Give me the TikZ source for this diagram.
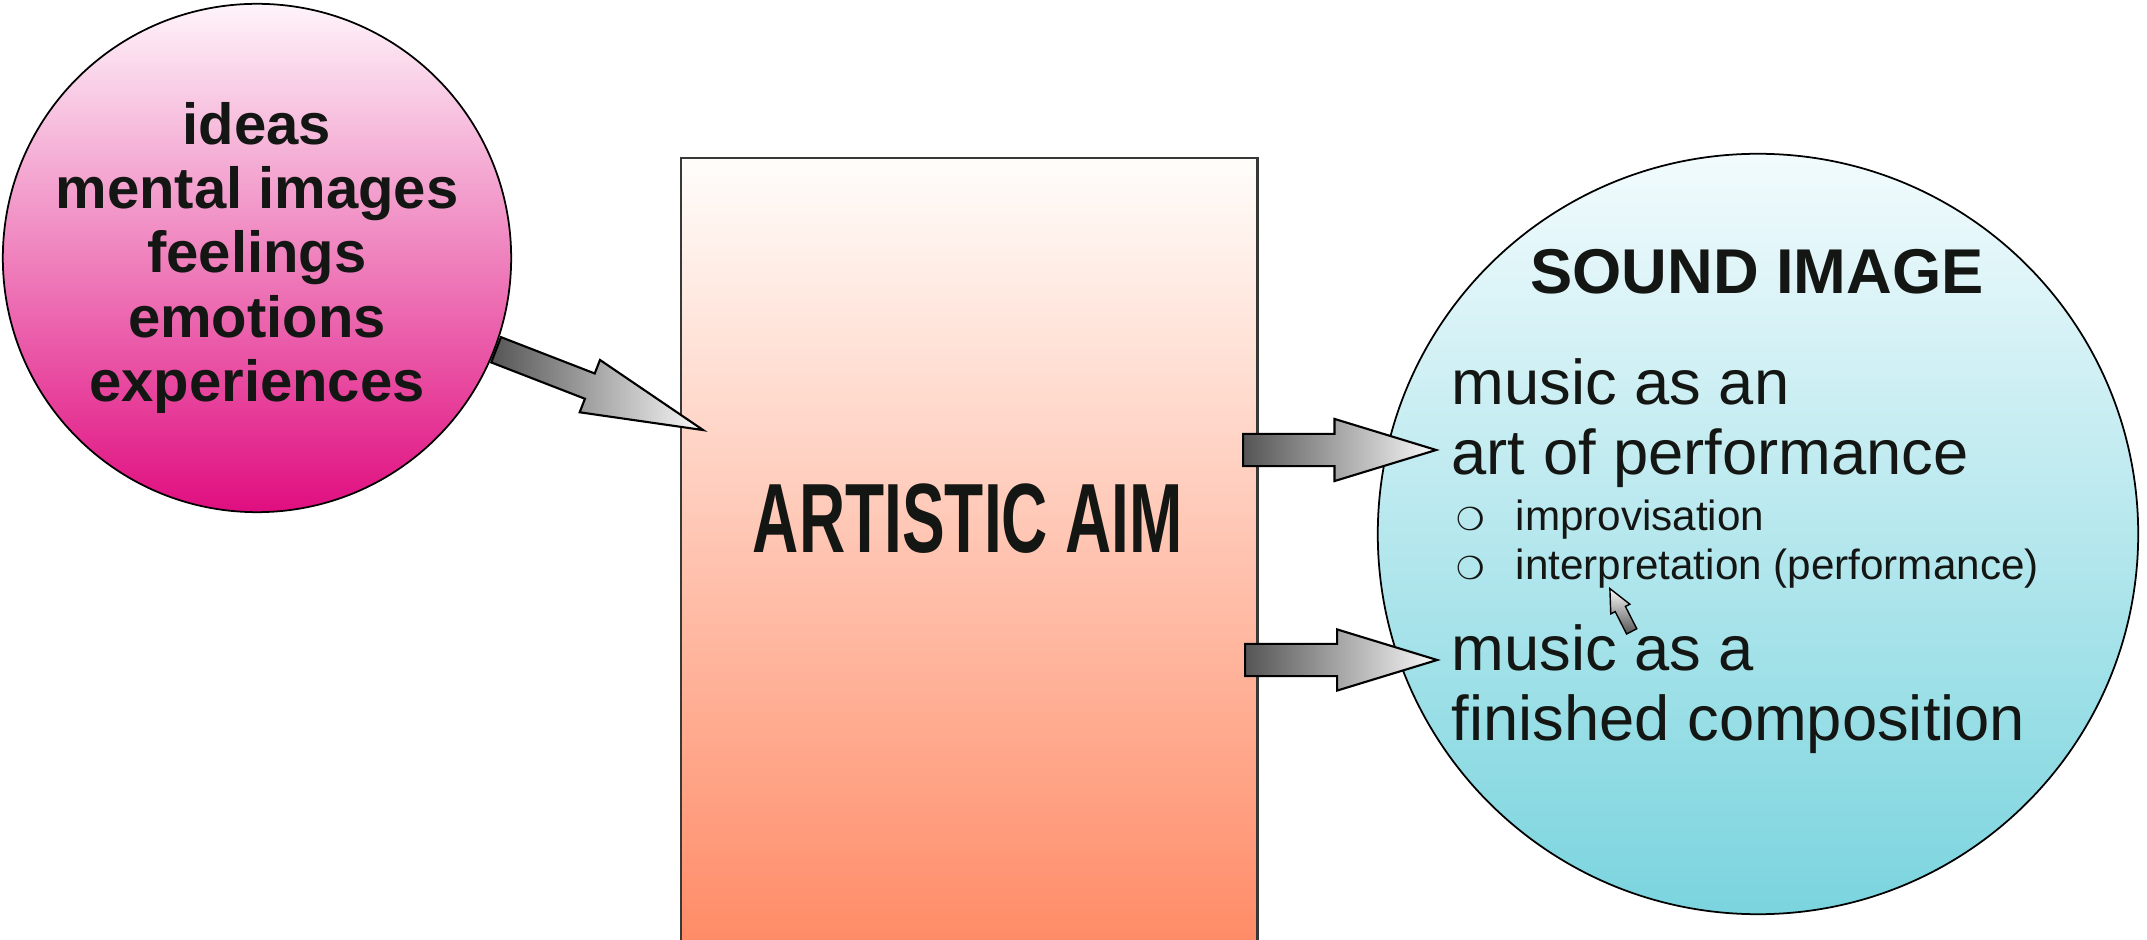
\documentclass[tikz,border=0pt]{standalone}
\usepackage{fontspec}
\setmainfont{Liberation Sans}
\newfontfamily\narrowfont[FakeStretch=0.65]{Liberation Sans}
\newfontfamily\dingfont{DejaVu Sans}
\usetikzlibrary{shapes.arrows}

\definecolor{ink}{RGB}{20,22,20}
\definecolor{ideatop}{RGB}{254,244,250}
\definecolor{ideabot}{RGB}{224,14,128}
\definecolor{aimtop}{RGB}{255,253,251}
\definecolor{aimbot}{RGB}{255,134,96}
\definecolor{soundtop}{RGB}{242,251,253}
\definecolor{soundbot}{RGB}{122,212,222}
\definecolor{arrowdark}{RGB}{85,85,85}
\definecolor{arrowlight}{RGB}{250,250,250}

\tikzset{
    blockarrow/.style={draw, single arrow, anchor=tail, inner xsep=0pt, text height=0pt, text depth=0pt, line width=0.6pt, left color=arrowdark, right color=arrowlight},
    bodytext/.style={anchor=base west, inner sep=0pt, text=ink, align=left, font=\fontsize{18}{20}\selectfont},
    subtext/.style={anchor=base west, inner sep=0pt, text=ink, font=\fontsize{12}{14}\selectfont},
    dot/.style={anchor=base west, inner sep=0pt, text=ink, font=\dingfont\fontsize{9}{10}\selectfont}
}

\begin{document}
\begin{tikzpicture}[x=0.01cm, y=-0.01cm]
    \path[use as bounding box, clip] (0,0) rectangle (2147,940);

    \node (ideas) [draw, circle, line width=0.5pt, minimum size=5.02cm, inner sep=0pt, top color=ideatop, bottom color=ideabot, align=center, text=ink, font=\bfseries\fontsize{16.5}{18.2}\selectfont] at (257,258) {ideas\\mental images\\feelings\\emotions\\experiences};

    \node (aim) [draw=ink!85, line width=0.7pt, anchor=north west, minimum width=5.76cm, minimum height=8.2cm, top color=aimtop, bottom color=aimbot] at (680,157) {};
    \node (aimtext) [anchor=base, inner sep=0pt, text=ink, font=\narrowfont\bfseries\fontsize{28}{30}\selectfont] at (968,553) {ARTISTIC AIM};

    \node (sound) [draw, circle, line width=0.5pt, minimum size=7.6cm, inner sep=0pt, top color=soundtop, bottom color=soundbot] at (1758,534) {};
    \node (title) [anchor=base, inner sep=0pt, text=ink, font=\bfseries\fontsize{18}{20}\selectfont] at (1757,294) {SOUND IMAGE};
    \node (perf) [bodytext] at (1451,475) {music as an\\art of performance};
    \node (b1) [dot] at (1456,531) {❍};
    \node (improv) [subtext] at (1515,531) {improvisation};
    \node (b2) [dot] at (1456,580) {❍};
    \node (interp) [subtext] at (1515,580) {interpretation (performance)};
    \node (comp) [bodytext] at (1451,741) {music as a\\finished composition};

    \node (feed) [blockarrow, rotate=-21.2, minimum height=2.22cm, inner ysep=0.125cm, single arrow head extend=0.145cm, single arrow tip angle=26] at (ideas.-21.5) {};
    \node (toperf) [blockarrow, minimum height=1.93cm, inner ysep=0.15cm, single arrow head extend=0.15cm, single arrow tip angle=34] at (1242,450) {};
    \node (tocomp) [blockarrow, minimum height=1.92cm, inner ysep=0.15cm, single arrow head extend=0.145cm, single arrow tip angle=34] at (1244,660) {};
    \node (pointer) [blockarrow, line width=0.4pt, rotate=117, minimum height=0.48cm, inner ysep=0.05cm, single arrow head extend=0.05cm, single arrow tip angle=50, top color=arrowlight, bottom color=arrowdark] at (1632,632) {};
\end{tikzpicture}
\end{document}
